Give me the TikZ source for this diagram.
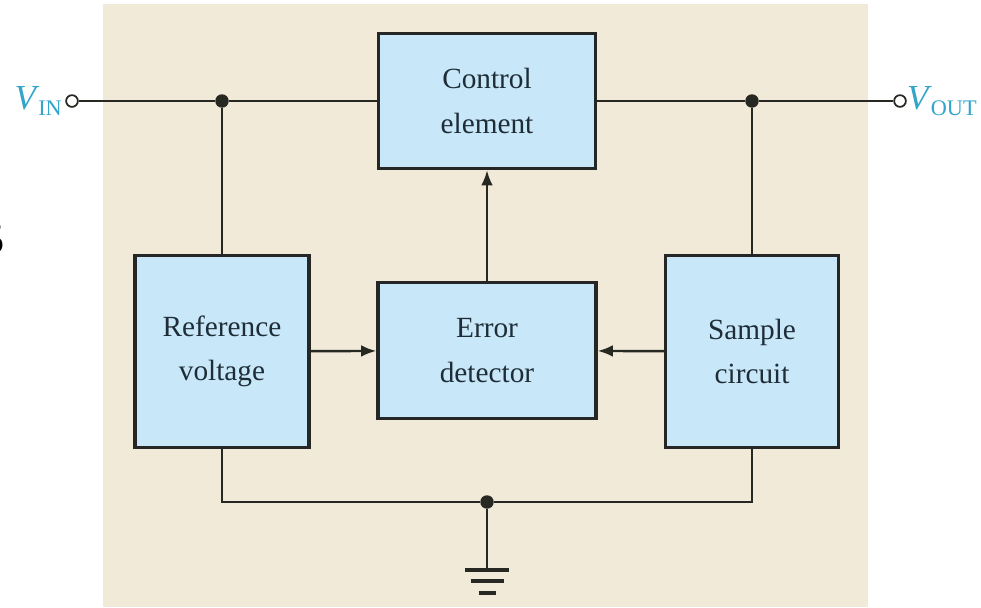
\documentclass[tikz,border=0pt]{standalone}
\usepackage{fontspec}
\setmainfont{Liberation Serif}
\usetikzlibrary{arrows.meta}
\definecolor{bg}{RGB}{241,234,216}
\definecolor{boxfill}{RGB}{200,231,249}
\definecolor{txt}{RGB}{30,45,55}
\definecolor{vlab}{RGB}{50,165,200}
\definecolor{wire}{RGB}{40,40,35}
\begin{document}
\begin{tikzpicture}[x=0.03cm,y=-0.03cm,
  blk/.style={draw=black!85, line width=2.8pt, fill=boxfill, text=txt, align=center,
    font=\fontsize{25}{38}\selectfont, inner sep=0pt},
  wireline/.style={draw=wire, line width=2.1pt},
  arr/.style={wireline, -{Latex[length=13pt,width=10pt]}},
  jdot/.style={circle, fill=wire, inner sep=0pt, minimum size=11.5pt},
  term/.style={circle, draw=wire, fill=white, line width=1.5pt, minimum size=10pt, inner sep=0pt},
  vlabel/.style={text=vlab, inner sep=0pt, font=\fontsize{30}{32}\selectfont},
  gbar/.style={draw=wire, line width=2.8pt}
]
\useasboundingbox (0,0) rectangle (981,607);
\fill[bg] (103,4) rectangle (868,607);

% partial figure number at left edge
\node[anchor=base east, inner sep=0pt, font=\fontsize{36}{36}\selectfont] (fignum) at (5,253) {5};

% blocks
\node[blk, minimum width=6.51cm, minimum height=4.05cm] (ctrl) at (487,101) {Control\\element};
\node[blk, minimum width=5.22cm, minimum height=5.76cm] (ref) at (222,351.5) {Reference\\voltage};
\node[blk, minimum width=6.54cm, minimum height=4.08cm] (err) at (487,350.5) {Error\\detector};
\node[blk, minimum width=5.19cm, minimum height=5.76cm] (samp) at (752,351.5) {Sample\\circuit};

% terminals
\node[term] (vin) at (72,101) {};
\node[term] (vout) at (900,101) {};
\node[vlabel, anchor=east] (vinlab) at (62,101) {\textit{V}\kern-1pt\raisebox{-0.4ex}{\fontsize{19}{20}\selectfont IN}};
\node[vlabel, anchor=west] (voutlab) at (907,101) {\textit{V}\kern-1pt\raisebox{-0.4ex}{\fontsize{19}{20}\selectfont OUT}};

% junctions
\node[jdot] (j1) at (222,101) {};
\node[jdot] (j2) at (752,101) {};
\node[jdot] (j3) at (487,502) {};
\coordinate (b1) at (222,502);
\coordinate (b2) at (752,502);
\coordinate (g) at (487,570);

% wires
\draw[wireline] (vin) -- (j1) -- (ctrl);
\draw[wireline] (ctrl) -- (j2) -- (vout);
\draw[wireline] (j1) -- (ref);
\draw[wireline] (j2) -- (samp);
\draw[wireline] (ref) -- (b1) -- (j3) -- (b2) -- (samp);
\draw[wireline] (j3) -- (g);

% arrows
\draw[arr] (ref) -- (err);
\draw[arr] (samp) -- (err);
\draw[arr] (err) -- (ctrl);

% ground
\draw[gbar] ([xshift=-22*0.03cm]g) -- ([xshift=22*0.03cm]g);
\draw[gbar] ([xshift=-16.5*0.03cm,yshift=-11*0.03cm]g) -- ([xshift=16.5*0.03cm,yshift=-11*0.03cm]g);
\draw[gbar] ([xshift=-8.5*0.03cm,yshift=-23*0.03cm]g) -- ([xshift=8.5*0.03cm,yshift=-23*0.03cm]g);
\end{tikzpicture}
\end{document}
